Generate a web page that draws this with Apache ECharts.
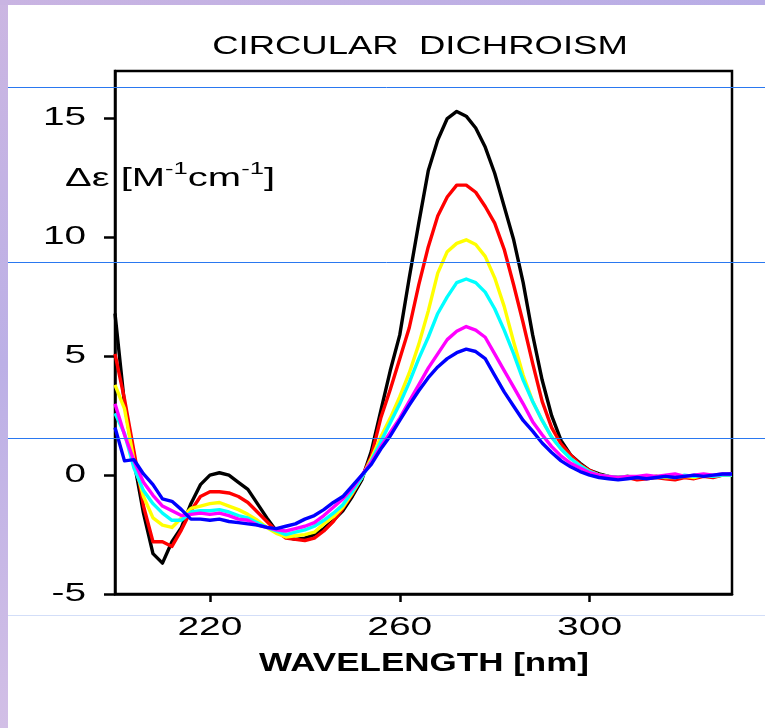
<!DOCTYPE html>
<html><head><meta charset="utf-8">
<script src="https://cdn.jsdelivr.net/npm/echarts@6/dist/echarts.min.js"></script>
<style>html,body{margin:0;padding:0;background:#fff}#c{width:765px;height:728px}</style>
</head><body><div id="c"></div><script>
// Wavelength (nm)
const wavelengths = [
 200,202,204,206,208,210,212,214,216,218,220,
 222,224,226,228,230,232,234,236,238,240,242,
 244,246,248,250,252,254,256,258,260,262,264,
 266,268,270,272,274,276,278,280,282,284,286,
 288,290,292,294,296,298,300,302,304,306,308,
 310,312,314,316,318,320,322,324,326,328,330];
// Delta epsilon values for each curve
const blackCurve = [
 6.8,3.0,0.6,-1.6,-3.3,-3.7,-2.8,-2.2,-1.2,-0.4,0.0,
 0.1,0.0,-0.3,-0.6,-1.2,-1.8,-2.35,-2.6,-2.7,-2.65,-2.5,
 -2.25,-1.9,-1.5,-0.9,-0.2,1.0,2.7,4.4,5.9,8.3,10.6,
 12.8,14.1,15.0,15.3,15.1,14.6,13.8,12.7,11.3,9.9,8.1,
 5.9,4.0,2.5,1.45,0.85,0.5,0.2,0.05,-0.05,-0.1,-0.05,
 -0.15,-0.1,-0.05,-0.1,-0.15,-0.05,-0.1,0.0,-0.05,0.0,0.05];
const redCurve = [
 5.1,3.2,1.0,-1.3,-2.8,-2.8,-3.0,-2.3,-1.5,-0.9,-0.7,
 -0.7,-0.75,-0.9,-1.15,-1.55,-1.95,-2.35,-2.65,-2.7,-2.75,-2.65,
 -2.35,-1.95,-1.4,-0.8,-0.1,0.8,2.4,3.6,4.9,6.2,8.0,
 9.6,10.9,11.7,12.2,12.2,11.9,11.3,10.6,9.5,8.0,6.4,
 4.7,3.1,2.0,1.3,0.85,0.45,0.2,0.0,-0.1,-0.15,-0.1,
 -0.2,-0.15,-0.1,-0.15,-0.2,-0.1,-0.15,-0.05,-0.1,0.0,0.0];
const yellowCurve = [
 3.8,2.8,0.6,-0.9,-1.8,-2.1,-2.2,-1.8,-1.4,-1.3,-1.2,
 -1.15,-1.3,-1.45,-1.65,-1.9,-2.2,-2.45,-2.6,-2.55,-2.5,-2.4,
 -2.05,-1.75,-1.35,-0.75,-0.1,0.7,1.6,2.4,3.3,4.3,5.5,
 6.9,8.5,9.4,9.75,9.9,9.7,9.2,8.3,7.1,5.6,4.2,
 3.1,2.3,1.6,1.1,0.7,0.4,0.15,0.0,-0.05,-0.1,-0.05,
 -0.1,-0.1,-0.05,-0.1,-0.1,-0.05,-0.1,0.0,-0.05,0.0,0.0];
const cyanCurve = [
 2.6,1.75,0.3,-0.65,-1.2,-1.6,-1.9,-1.9,-1.55,-1.5,-1.5,
 -1.45,-1.55,-1.7,-1.8,-2.0,-2.2,-2.35,-2.5,-2.4,-2.3,-2.15,
 -1.9,-1.6,-1.25,-0.7,-0.1,0.6,1.4,2.2,3.0,3.9,4.9,
 5.8,6.8,7.5,8.1,8.25,8.1,7.7,7.0,6.1,5.1,4.0,
 3.1,2.3,1.6,1.1,0.7,0.4,0.15,0.0,-0.05,-0.1,-0.05,
 -0.1,-0.05,-0.1,-0.05,-0.1,0.0,-0.05,0.0,-0.05,0.0,0.0];
const magentaCurve = [
 3.0,1.7,0.6,-0.3,-0.85,-1.3,-1.5,-1.7,-1.65,-1.6,-1.65,
 -1.6,-1.7,-1.85,-1.9,-2.1,-2.2,-2.3,-2.35,-2.25,-2.15,-2.0,
 -1.7,-1.35,-1.0,-0.55,0.0,0.55,1.2,1.8,2.4,3.1,3.8,
 4.5,5.1,5.7,6.05,6.25,6.1,5.8,5.1,4.4,3.7,3.0,
 2.25,1.7,1.2,0.8,0.5,0.3,0.1,0.0,-0.05,-0.1,-0.05,
 -0.05,0.0,-0.05,0.0,0.05,-0.05,0.0,0.05,0.0,0.05,0.05];
const blueCurve = [
 2.0,0.6,0.65,0.05,-0.4,-1.0,-1.1,-1.45,-1.85,-1.85,-1.9,
 -1.85,-1.95,-2.0,-2.05,-2.1,-2.2,-2.25,-2.15,-2.05,-1.85,-1.7,
 -1.45,-1.15,-0.9,-0.45,0.0,0.45,1.1,1.65,2.3,2.95,3.55,
 4.1,4.55,4.9,5.15,5.3,5.2,4.9,4.2,3.5,2.9,2.3,
 1.85,1.35,0.95,0.6,0.35,0.15,0.0,-0.1,-0.15,-0.2,-0.15,
 -0.1,-0.15,-0.1,-0.05,-0.1,-0.05,0.0,-0.05,0.0,0.05,0.05];
const xTickValues = [220, 260, 300];
const yTickValues = [-5, 0, 5, 10, 15];
const titleText = 'CIRCULAR  DICHROISM';
const xAxisTitle = 'WAVELENGTH [nm]';

const curves = [
  {name:'black', data:blackCurve, color:'#000000'},
  {name:'red', data:redCurve, color:'#ff0000'},
  {name:'yellow', data:yellowCurve, color:'#ffff00'},
  {name:'cyan', data:cyanCurve, color:'#00ffff'},
  {name:'magenta', data:magentaCurve, color:'#ff00ff'},
  {name:'blue', data:blueCurve, color:'#0000ff'}
];

const FONT = '"Liberation Sans", Arial, sans-serif';
const chart = echarts.init(document.getElementById('c'), null, {renderer:'canvas'});
chart.setOption({
  animation:false,
  backgroundColor:'#ffffff',
  grid:{left:115,right:33,top:71,bottom:134,show:true,borderColor:'#000',borderWidth:2.5},
  xAxis:{type:'value',min:200,max:330,
    axisLine:{show:true,onZero:false,lineStyle:{color:'#000',width:2.5}},
    axisTick:{show:true,customValues:xTickValues,length:8,lineStyle:{color:'#000',width:2.5}},
    axisLabel:{show:false},splitLine:{show:false}},
  yAxis:{type:'value',min:-5,max:17,interval:5,
    axisLine:{show:true,onZero:false,lineStyle:{color:'#000',width:2.5}},
    axisTick:{show:true,customValues:yTickValues,length:11,lineStyle:{color:'#000',width:2.5}},
    axisLabel:{show:false},splitLine:{show:false}},
  series: curves.map(c => ({
    name:c.name, type:'line', showSymbol:false, silent:true,
    data: wavelengths.map((w,i)=>[w,c.data[i]]),
    lineStyle:{color:c.color,width:3.4,join:'round'}, itemStyle:{color:c.color}
  }))
});

const gfx = [];
// slide decoration
gfx.push({type:'rect',shape:{x:0,y:0,width:8,height:728},style:{fill:new echarts.graphic.LinearGradient(0,0,0,1,[{offset:0,color:'#cbb6e2'},{offset:0.5,color:'#bcb0e6'},{offset:1,color:'#d2bfe6'}])},z:1});
gfx.push({type:'rect',shape:{x:0,y:0,width:765,height:5},style:{fill:new echarts.graphic.LinearGradient(0,0,1,0,[{offset:0,color:'#c9b4e2'},{offset:1,color:'#b8ade6'}])},z:1});
[87.5,262.5,438.5].forEach(y=>gfx.push({type:'line',shape:{x1:8,y1:y,x2:765,y2:y},style:{stroke:'#2a78f0',lineWidth:1},z:100}));
gfx.push({type:'line',shape:{x1:8,y1:615.5,x2:765,y2:615.5},style:{stroke:'#d3def8',lineWidth:1},z:100});
// title
gfx.push({type:'text',x:420,y:47,scaleX:1.46,style:{text:titleText,x:0,y:0,align:'center',verticalAlign:'middle',font:'25px '+FONT,fill:'#000'},z:50});
// x tick labels
xTickValues.forEach(v=>{
  const px = chart.convertToPixel({xAxisIndex:0}, v);
  gfx.push({type:'text',x:px,y:628,scaleX:1.5,style:{text:String(v),x:0,y:0,align:'center',verticalAlign:'middle',font:'26px '+FONT,fill:'#000'},z:50});
});
// y tick labels
yTickValues.forEach(v=>{
  const py = chart.convertToPixel({yAxisIndex:0}, v);
  gfx.push({type:'text',x:86,y:py,scaleX:1.55,style:{text:String(v),x:0,y:0,align:'right',verticalAlign:'middle',font:'25px '+FONT,fill:'#000'},z:50});
});
// axis titles
gfx.push({type:'text',x:424,y:664,scaleX:1.4,style:{text:xAxisTitle,x:0,y:0,align:'center',verticalAlign:'middle',font:'bold 25px '+FONT,fill:'#000'},z:50});
gfx.push({type:'text',x:65,y:177,scaleX:1.6,style:{
  text:'{a|Δε [M}{s|-1}{a|cm}{s|-1}{a|]}',x:0,y:0,align:'left',verticalAlign:'middle',
  rich:{a:{font:'25px '+FONT,fill:'#000',lineHeight:30,verticalAlign:'bottom'},s:{font:'16px '+FONT,fill:'#000',verticalAlign:'top'}}},z:50});
chart.setOption({graphic:gfx});
</script></body></html>
